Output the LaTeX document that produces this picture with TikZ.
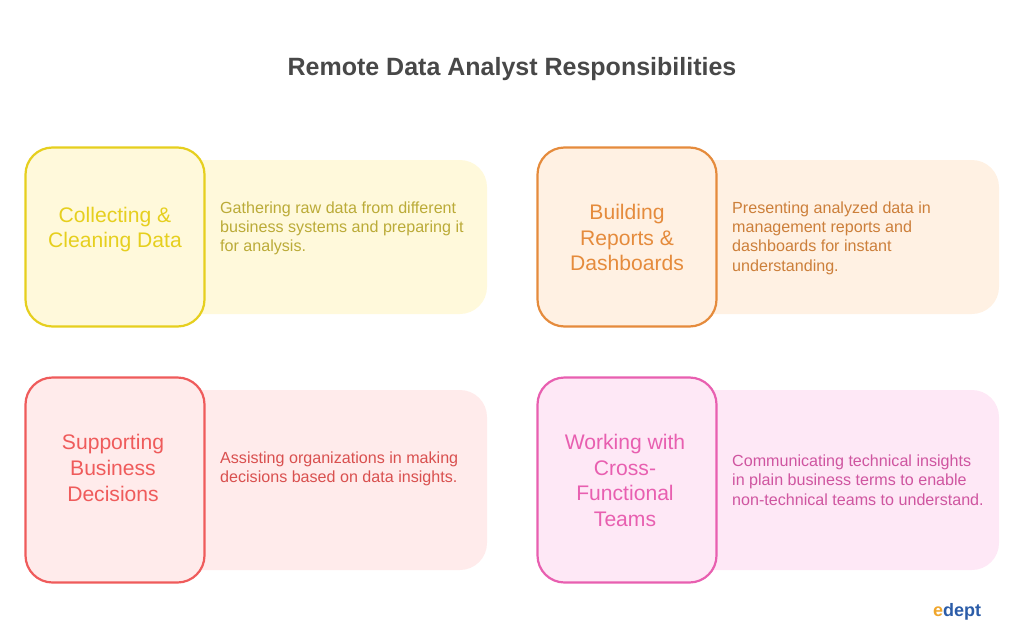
\documentclass[tikz,border=0pt]{standalone}
\usepackage{fontspec}
\setmainfont{Liberation Sans}
\definecolor{yelS}{HTML}{E6CF1E}\definecolor{yelF}{HTML}{FFF9DB}\definecolor{yelT}{HTML}{BBAB38}
\definecolor{oraS}{HTML}{E58B3C}\definecolor{oraF}{HTML}{FFF1E3}\definecolor{oraT}{HTML}{CC7F3A}
\definecolor{redS}{HTML}{EF5B5B}\definecolor{redF}{HTML}{FFEBEB}\definecolor{redT}{HTML}{D9504F}
\definecolor{pinS}{HTML}{E85FB0}\definecolor{pinF}{HTML}{FEE8F6}\definecolor{pinT}{HTML}{CF55A0}
\definecolor{titleC}{HTML}{484848}\definecolor{logoB}{HTML}{2B5CA8}\definecolor{logoO}{HTML}{F0A62C}
\tikzset{
 x=1pt,y=-1pt,
 panel/.style={fill=#1,draw=none,rounded corners=27pt},
 headbox/.style n args={2}{draw=#1,fill=#2,line width=2.2pt,rounded corners=27pt},
 headtext/.style={font=\fontsize{21.1}{25.6}\selectfont,align=center,inner sep=0pt,text=#1},
 desctext/.style={font=\fontsize{16.1}{19.3}\selectfont,align=left,anchor=west,inner sep=0pt,text=#1},
}
\begin{document}
\begin{tikzpicture}
\useasboundingbox (0,0) rectangle (1024,634);
\node[font=\bfseries\fontsize{25}{30}\selectfont,text=titleC,inner sep=0pt] (title) at (512,69.5) {Remote Data Analyst Responsibilities};
% yellow
\fill[panel=yelF] (150,160) rectangle (487,314);
\draw[headbox={yelS}{yelF}] (25.5,147.5) rectangle (204.5,326.5);
\node[headtext=yelS] (h1) at (115,229.5) {Collecting \&\\Cleaning Data};
\node[desctext=yelT] (d1) at (220,228.5) {Gathering raw data from different\\business systems and preparing it\\for analysis.};
% orange
\fill[panel=oraF] (662,160) rectangle (999,314);
\draw[headbox={oraS}{oraF}] (537.5,147.5) rectangle (716.5,326.5);
\node[headtext=oraS] (h2) at (627,237.5) {Building\\Reports \&\\Dashboards};
\node[desctext=oraT] (d2) at (732,238) {Presenting analyzed data in\\management reports and\\dashboards for instant\\understanding.};
% red
\fill[panel=redF] (150,390) rectangle (487,570);
\draw[headbox={redS}{redF}] (25.5,377.5) rectangle (204.5,582.5);
\node[headtext=redS] (h3) at (113,468) {Supporting\\Business\\Decisions};
\node[desctext=redT] (d3) at (220,468.5) {Assisting organizations in making\\decisions based on data insights.};
% pink
\fill[panel=pinF] (662,390) rectangle (999,570);
\draw[headbox={pinS}{pinF}] (537.5,377.5) rectangle (716.5,582.5);
\node[headtext=pinS] (h4) at (625,480.5) {Working with\\Cross-\\Functional\\Teams};
\node[desctext=pinT] (d4) at (732,480) {Communicating technical insights\\in plain business terms to enable\\non-technical teams to understand.};
% logo
\node[font=\bfseries\fontsize{18}{18}\selectfont,inner sep=0pt,anchor=west] (logo) at (933,612) {\textcolor{logoO}{e}\textcolor{logoB}{dept}};
\end{tikzpicture}
\end{document}
